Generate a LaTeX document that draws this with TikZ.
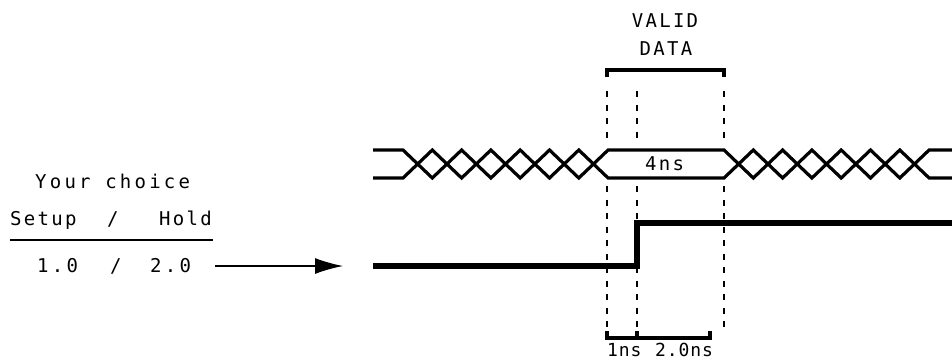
\documentclass[tikz,border=0pt]{standalone}
\usepackage{fontspec}
\newfontfamily\hpfont{DejaVu Sans Mono}[LetterSpace=12]
\newfontfamily\hpwide{DejaVu Sans Mono}[LetterSpace=17]
\newfontfamily\hpnarrow{DejaVu Sans Mono}[LetterSpace=5]
\usetikzlibrary{arrows.meta}
\begin{document}
\begin{tikzpicture}[x=1pt,y=-1pt,
  txt/.style={font=\hpfont\fontsize{19}{19}\selectfont, inner sep=0pt, anchor=base west},
  wtxt/.style={txt, font=\hpwide\fontsize{19}{19}\selectfont},
  ntxt/.style={txt, font=\hpnarrow\fontsize{18}{18}\selectfont},
  bus/.style={line width=3.2pt, line join=miter},
  sig/.style={line width=5.5pt, line join=miter},
  brk/.style={line width=3.6pt, line join=miter},
  dsh/.style={line width=1.9pt, dash pattern=on 6pt off 7.5pt},
  arr/.style={line width=1.3pt, -{Latex[length=28pt,width=16pt]}}
]
\useasboundingbox (0,0) rectangle (952,360);
% dashed guides
\draw[dsh] (607,91) -- (607,144);
\draw[dsh] (607,186) -- (607,331);
\draw[dsh] (637,91) -- (637,144);
\draw[dsh] (637,186) -- (637,331);
\draw[dsh] (724,91) -- (724,144);
\draw[dsh] (724,186) -- (724,329);
% bus
\draw[bus] (373,150)--(403,150)--(432.3,178)--(461.6,150)--(490.9,178)--(520.2,150)--(549.5,178)--(578.8,150)--(608.1,178)--(724,178)--(753.3,150)--(782.6,178)--(811.9,150)--(841.2,178)--(870.5,150)--(899.8,178)--(929.1,150)--(952,150);
\draw[bus] (373,178)--(403,178)--(432.3,150)--(461.6,178)--(490.9,150)--(520.2,178)--(549.5,150)--(578.8,178)--(608.1,150)--(724,150)--(753.3,178)--(782.6,150)--(811.9,178)--(841.2,150)--(870.5,178)--(899.8,150)--(929.1,178)--(952,178);
% signal
\draw[sig] (373,266) -- (637,266) -- (637,223) -- (952,223);
% brackets
\draw[brk] (607,77) -- (607,70) -- (724,70) -- (724,77);
\draw[brk] (607,331) -- (607,338) -- (710,338) -- (710,331);
\draw[brk] (637,331) -- (637,338);
% texts
\node[txt,anchor=base] (valid) at (665,27) {VALID};
\node[txt,anchor=base] (data) at (666,55) {DATA};
\node[txt] (fourns) at (645,170) {4ns};
\node[wtxt] (your) at (35,188) {Your choice};
\node[txt] (setup) at (10,225) {Setup};
\node[txt] (sl1) at (107,225) {/};
\node[txt] (hold) at (159,225) {Hold};
\coordinate (ul1) at (10,240);
\coordinate (ul2) at (213,240);
\draw[line width=2pt] (ul1) -- (ul2);
\node[wtxt] (one) at (37,272) {1.0};
\node[txt] (sl2) at (110,272) {/};
\node[wtxt] (two) at (150,272) {2.0};
\coordinate (astart) at (215,266);
\coordinate (tip) at (343,266);
\draw[arr] (astart) -- (tip);
\node[ntxt] (ns1) at (607,356) {1ns};
\node[ntxt] (ns2) at (655,356) {2.0ns};
\end{tikzpicture}
\end{document}
